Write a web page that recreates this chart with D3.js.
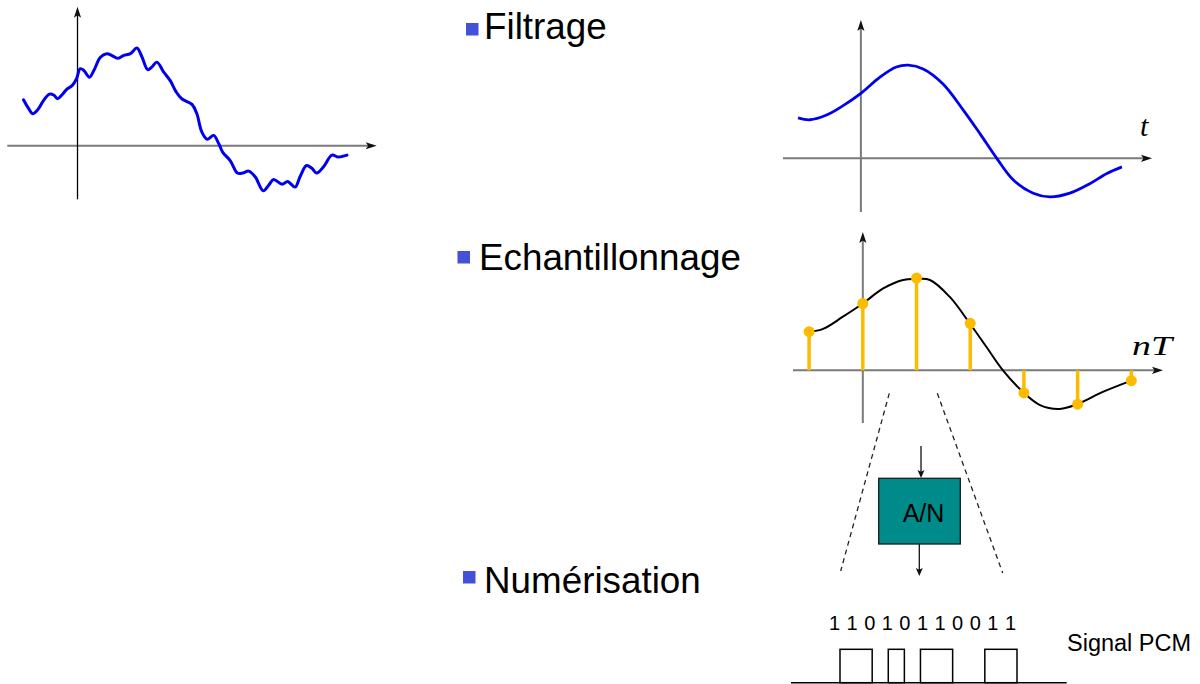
<!DOCTYPE html>
<html lang="fr">
<head>
<meta charset="UTF-8">
<title>Filtrage, échantillonnage, numérisation</title>
<script src="https://d3js.org/d3.v7.min.js"></script>
<style>
  body { margin: 0; background: #fff; }
  svg { display: block; font-family: "Liberation Sans", Arial, Helvetica, sans-serif; }
</style>
</head>
<body>
<svg id="chart" width="1200" height="684"></svg>
<script>
// ------------------------------- DATA --------------------------------------
// x in units of T, y in amplitude units (1 = peak of the filtered signal)

// raw signal (with noise), top left
var noisyT = [-1.00, -0.91, -0.83, -0.74, -0.63, -0.52, -0.44, -0.37, -0.29, -0.20,
              -0.10, -0.02, 0.05, 0.12, 0.22, 0.31, 0.42, 0.54, 0.64, 0.74,
              0.85, 0.98, 1.10, 1.19, 1.30, 1.38, 1.47, 1.59, 1.72, 1.83,
              1.93, 2.12, 2.21, 2.30, 2.40, 2.52, 2.61, 2.69, 2.83, 2.96,
              3.06, 3.17, 3.29, 3.44, 3.54, 3.63, 3.79, 3.89, 4.03, 4.12,
              4.24, 4.34, 4.43, 4.56, 4.71, 4.83, 4.99];
var noisyV = [0.49, 0.40, 0.34, 0.38, 0.48, 0.55, 0.54, 0.50, 0.54, 0.60,
              0.64, 0.71, 0.82, 0.80, 0.73, 0.81, 0.94, 0.98, 0.96, 0.93,
              0.96, 0.98, 1.04, 0.95, 0.81, 0.84, 0.89, 0.79, 0.69, 0.57,
              0.50, 0.44, 0.34, 0.15, 0.07, 0.11, 0.03, -0.07, -0.16, -0.29,
              -0.29, -0.27, -0.33, -0.48, -0.42, -0.36, -0.41, -0.38, -0.44, -0.33,
              -0.21, -0.24, -0.29, -0.22, -0.10, -0.12, -0.10];

// filtered signal, top right
var filtT = [-1.17, -0.95, -0.64, -0.33, 0.00, 0.35, 0.66, 0.88, 1.16, 1.53,
             1.91, 2.22, 2.53, 2.84, 3.21, 3.52, 3.89, 4.26, 4.58, 4.86];
var filtV = [0.43, 0.41, 0.46, 0.56, 0.69, 0.86, 0.97, 0.99, 0.95, 0.79,
             0.51, 0.26, 0.00, -0.23, -0.37, -0.41, -0.37, -0.27, -0.16, -0.09];

// signal under the samples
var recT = [-1.00, -0.74, -0.37, 0.00, 0.38, 0.75, 0.99, 1.25, 1.62, 1.99,
            2.30, 2.61, 3.00, 3.30, 3.67, 3.99, 4.47, 5.00];
var recV = [0.41, 0.44, 0.57, 0.71, 0.87, 0.96, 0.97, 0.96, 0.78, 0.50,
            0.25, 0.00, -0.24, -0.37, -0.41, -0.36, -0.23, -0.11];

// samples x(nT)
var sampleN = [-1, 0, 1, 2, 3, 4, 5];
var sampleV = [0.41, 0.71, 0.98, 0.50, -0.24, -0.36, -0.11];

// PCM word
var bits = [1, 1, 0, 1, 0, 1, 1, 0, 0, 1, 1];

// texts
var bullets = ["Filtrage", "Echantillonnage", "Numérisation"];
var axisLabels = ["t", "nT"];
var converterLabel = "A/N";
var pcmLabel = "Signal PCM";

// ------------------------------- DRAW --------------------------------------
var svg = d3.select("#chart");
var blue = "#0000ee", gold = "#fdbb00", grey = "#7a7a7a";

function toPoints(ts, vs) {
    return ts.map(function (t, i) { return [t, vs[i]]; });
}

// filled arrow head at (x2,y2), pointing from (x1,y1)
function arrowHead(g, x1, y1, x2, y2, len, half, color) {
    var a = Math.atan2(y2 - y1, x2 - x1) * 180 / Math.PI;
    g.append("path")
        .attr("d", "M0,0 L" + (-len) + "," + half + " L" + (-len * 0.78) + ",0 L" + (-len) + "," + (-half) + "Z")
        .attr("transform", "translate(" + x2 + "," + y2 + ") rotate(" + a + ")")
        .attr("fill", color);
}

// one small plot: scales + two axes with arrows
function makePanel(xDom, xRange, yDom, yRange, hColor, vColor, vWidth) {
    var x = d3.scaleLinear().domain(xDom).range(xRange);
    var y = d3.scaleLinear().domain(yDom).range(yRange);
    var g = svg.append("g");

    g.append("line")
        .attr("x1", x(xDom[0])).attr("y1", y(0))
        .attr("x2", x(xDom[1]) - 4).attr("y2", y(0))
        .attr("stroke", hColor).attr("stroke-width", 2);
    arrowHead(g, x(xDom[0]), y(0), x(xDom[1]), y(0), 11, 3.6, "#111");

    g.append("line")
        .attr("x1", x(0)).attr("y1", y(yDom[0]))
        .attr("x2", x(0)).attr("y2", y(yDom[1]) + 4)
        .attr("stroke", vColor).attr("stroke-width", vWidth);
    arrowHead(g, x(0), y(yDom[0]), x(0), y(yDom[1]), 11, 3.6, "#111");

    return { x: x, y: y, g: g };
}

// ---- raw signal
var pA = makePanel([-1.30, 5.54], [7.3, 376.7], [-0.57, 1.48], [199.3, 6.7], grey, "#000", 1.3);
pA.g.append("path")
    .datum(toPoints(noisyT, noisyV))
    .attr("d", d3.line().x(function (d) { return pA.x(d[0]); })
                       .y(function (d) { return pA.y(d[1]); })
                       .curve(d3.curveCatmullRom.alpha(0.5)))
    .attr("fill", "none").attr("stroke", blue).attr("stroke-width", 3)
    .attr("stroke-linejoin", "round").attr("stroke-linecap", "round");

// ---- filtered signal
var pB = makePanel([-1.45, 5.42], [783, 1152], [-0.57, 1.47], [212, 20], grey, grey, 2);
pB.g.append("path")
    .datum(toPoints(filtT, filtV))
    .attr("d", d3.line().x(function (d) { return pB.x(d[0]); })
                       .y(function (d) { return pB.y(d[1]); })
                       .curve(d3.curveCatmullRom.alpha(0.5)))
    .attr("fill", "none").attr("stroke", blue).attr("stroke-width", 2.8);
pB.g.append("text")
    .attr("x", 1140).attr("y", 136)
    .attr("font-family", "'Liberation Serif', 'DejaVu Serif', serif")
    .attr("font-style", "italic").attr("font-size", 30)
    .text(axisLabels[0]);

// ---- sampled signal
var pC = makePanel([-1.30, 5.59], [793, 1163], [-0.56, 1.47], [423, 232], grey, grey, 2);
pC.g.append("path")
    .datum(toPoints(recT, recV))
    .attr("d", d3.line().x(function (d) { return pC.x(d[0]); })
                       .y(function (d) { return pC.y(d[1]); })
                       .curve(d3.curveCatmullRom.alpha(0.5)))
    .attr("fill", "none").attr("stroke", "#000").attr("stroke-width", 2);

var samples = toPoints(sampleN, sampleV);
pC.g.selectAll("line.stem").data(samples).enter()
    .append("line").attr("class", "stem")
    .attr("x1", function (d) { return pC.x(d[0]); })
    .attr("x2", function (d) { return pC.x(d[0]); })
    .attr("y1", pC.y(0))
    .attr("y2", function (d) { return pC.y(d[1]); })
    .attr("stroke", gold).attr("stroke-width", 3.5);
pC.g.selectAll("circle").data(samples).enter()
    .append("circle")
    .attr("cx", function (d) { return pC.x(d[0]); })
    .attr("cy", function (d) { return pC.y(d[1]); })
    .attr("r", 5.5)
    .attr("fill", gold);
pC.g.append("text")
    .attr("x", 1132).attr("y", 355)
    .attr("font-family", "'Liberation Serif', 'DejaVu Serif', serif")
    .attr("font-style", "italic").attr("font-size", 27)
    .attr("textLength", 40).attr("lengthAdjust", "spacingAndGlyphs")
    .text(axisLabels[1]);

// ---- bullets
var bulletPos = [[466, 23, 484, 39], [457.5, 251, 479, 270], [463, 571, 484, 593]];
var gb = svg.append("g");
gb.selectAll("rect").data(bullets).enter()
    .append("rect")
    .attr("x", function (d, i) { return bulletPos[i][0]; })
    .attr("y", function (d, i) { return bulletPos[i][1]; })
    .attr("width", 12.5).attr("height", 12.5)
    .attr("fill", "#4350d8");
gb.selectAll("text").data(bullets).enter()
    .append("text")
    .attr("x", function (d, i) { return bulletPos[i][2]; })
    .attr("y", function (d, i) { return bulletPos[i][3]; })
    .attr("font-size", 36.8).attr("fill", "#000")
    .text(function (d) { return d; });

// ---- zoom lines + A/N converter
var gc = svg.append("g");
gc.append("line").attr("x1", 889.3).attr("y1", 393.3).attr("x2", 840.7).attr("y2", 571)
    .attr("stroke", "#222").attr("stroke-width", 1.3).attr("stroke-dasharray", "5,4");
gc.append("line").attr("x1", 937.3).attr("y1", 393.3).attr("x2", 1002.7).attr("y2", 573)
    .attr("stroke", "#222").attr("stroke-width", 1.3).attr("stroke-dasharray", "5,4");

gc.append("line").attr("x1", 921).attr("y1", 446).attr("x2", 921).attr("y2", 472)
    .attr("stroke", "#111").attr("stroke-width", 1.3);
arrowHead(gc, 921, 446, 921, 478, 8, 3.5, "#111");
gc.append("line").attr("x1", 919.3).attr("y1", 544).attr("x2", 919.3).attr("y2", 570)
    .attr("stroke", "#111").attr("stroke-width", 1.3);
arrowHead(gc, 919.3, 544, 919.3, 576, 8, 3.5, "#111");

gc.append("rect")
    .attr("x", 878.7).attr("y", 478.3).attr("width", 81.6).attr("height", 65.7)
    .attr("fill", "#008b8b").attr("stroke", "#1a1a1a").attr("stroke-width", 1.3);
gc.append("text")
    .attr("x", 923.5).attr("y", 521.5).attr("text-anchor", "middle")
    .attr("font-size", 25).attr("fill", "#000")
    .text(converterLabel);

// ---- PCM signal
var bx = d3.scaleLinear().domain([0, bits.length]).range([840, 1017]);
var by = d3.scaleLinear().domain([0, 1]).range([682.7, 649.3]);

// runs of consecutive 1s -> one pulse each
var runs = [];
bits.forEach(function (b, i) {
    if (b === 1) {
        if (runs.length && runs[runs.length - 1][1] === i) runs[runs.length - 1][1] = i + 1;
        else runs.push([i, i + 1]);
    }
});

var gp = svg.append("g");
gp.selectAll("rect").data(runs).enter()
    .append("rect")
    .attr("x", function (d) { return bx(d[0]); })
    .attr("y", by(1))
    .attr("width", function (d) { return bx(d[1]) - bx(d[0]); })
    .attr("height", by(0) - by(1))
    .attr("fill", "none").attr("stroke", "#000").attr("stroke-width", 1.5);
gp.append("line")
    .attr("x1", 791).attr("x2", 1066.7).attr("y1", by(0)).attr("y2", by(0))
    .attr("stroke", "#000").attr("stroke-width", 1.6);
gp.append("text")
    .attr("x", 829).attr("y", 630)
    .attr("font-size", 20).attr("textLength", 187).attr("lengthAdjust", "spacing")
    .text(bits.join(" "));
gp.append("text")
    .attr("x", 1067).attr("y", 650.7)
    .attr("font-size", 23.5)
    .text(pcmLabel);
</script>
</body>
</html>
